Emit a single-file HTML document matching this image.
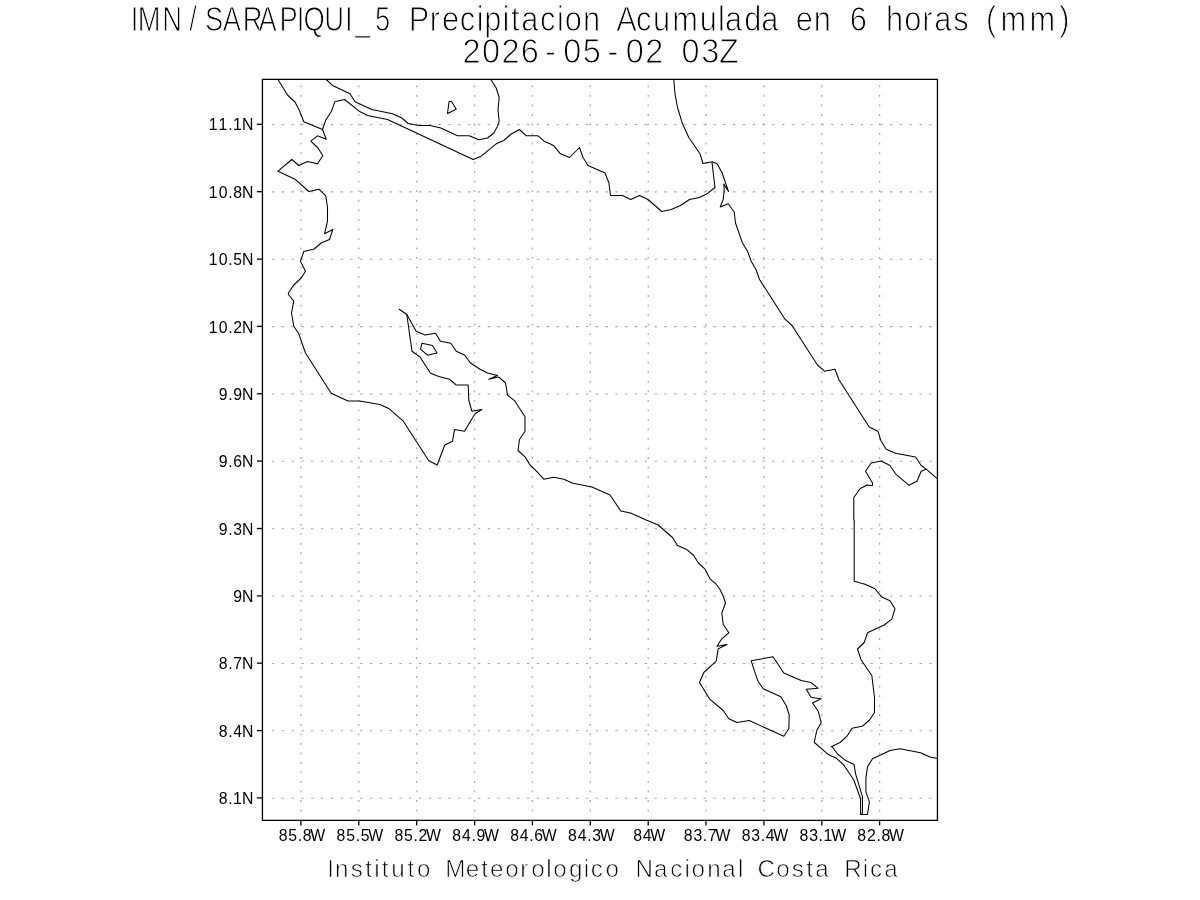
<!DOCTYPE html>
<html lang="es"><head><meta charset="utf-8"><title>IMN/SARAPIQUI_5 Precipitacion Acumulada en 6 horas (mm)</title>
<style>
html,body{margin:0;padding:0;background:#fff;}
body{width:1200px;height:900px;overflow:hidden;}
svg{display:block;}
text{font-family:"Liberation Sans",sans-serif;fill:#000;}
.t{stroke:#fff;stroke-width:1.0px;}
.a{font-size:17.2px;}
.f{stroke:#fff;stroke-width:0.7px;}
.g{stroke:#a8a8a8;stroke-width:1.3;fill:none;}
.c{stroke:#000;stroke-width:1.05;fill:none;stroke-linejoin:round;stroke-linecap:round;}
</style></head><body>
<svg width="1200" height="900" viewBox="0 0 1200 900">
<rect x="0" y="0" width="1200" height="900" fill="#fff"/>
<text class="t" transform="scale(0.8 1)" x="163.37 172.32 202.77 236.62 256.23 278.47 303.42 323.28 349.47 370.87 379.33 405.28 431.19 443.99 468.65" y="30.7" style="font-size:34.2px">IMN/SARAPIQUI_5</text>
<text class="t" transform="scale(0.9 1)" x="454.10 477.52 491.07 510.85 529.70 537.94 558.39 567.93 579.05 600.12 618.97 627.60 647.76 670.94 684.85 706.55 725.55 746.82 777.63 797.65 805.57 826.87 845.95 870.39 884.07 904.15 928.58 944.12 969.55 984.51 1004.81 1024.80 1038.15 1059.14 1080.94 1095.57 1111.59 1143.79 1176.93" y="30.7" style="font-size:34.2px">Precipitacion Acumulada en 6 horas (mm)</text>
<text class="t" transform="scale(0.95 1)" x="486.91 507.44 527.86 548.27 573.67 593.02 613.47 639.46 658.81 679.23 702.62 717.49 738.06 756.81" y="62.6" style="font-size:34.2px">2026-05-02 03Z</text>
<line class="g" x1="300.9" y1="85.50" x2="300.9" y2="820.4" stroke-dasharray="1.8 7.728"/>
<line class="g" x1="358.8" y1="85.50" x2="358.8" y2="820.4" stroke-dasharray="1.8 7.728"/>
<line class="g" x1="416.7" y1="85.50" x2="416.7" y2="820.4" stroke-dasharray="1.8 7.728"/>
<line class="g" x1="474.6" y1="85.50" x2="474.6" y2="820.4" stroke-dasharray="1.8 7.728"/>
<line class="g" x1="532.4" y1="85.50" x2="532.4" y2="820.4" stroke-dasharray="1.8 7.728"/>
<line class="g" x1="590.3" y1="85.50" x2="590.3" y2="820.4" stroke-dasharray="1.8 7.728"/>
<line class="g" x1="648.2" y1="85.50" x2="648.2" y2="820.4" stroke-dasharray="1.8 7.728"/>
<line class="g" x1="706.0" y1="85.50" x2="706.0" y2="820.4" stroke-dasharray="1.8 7.728"/>
<line class="g" x1="763.9" y1="85.50" x2="763.9" y2="820.4" stroke-dasharray="1.8 7.728"/>
<line class="g" x1="821.8" y1="85.50" x2="821.8" y2="820.4" stroke-dasharray="1.8 7.728"/>
<line class="g" x1="879.6" y1="85.50" x2="879.6" y2="820.4" stroke-dasharray="1.8 7.728"/>
<line class="g" x1="271.80" y1="124.53" x2="937.5" y2="124.53" stroke-dasharray="2.4 7.413" style="stroke-width:1.05;stroke:#a6a6a6"/>
<line class="g" x1="271.80" y1="191.89" x2="937.5" y2="191.89" stroke-dasharray="2.4 7.413" style="stroke-width:1.05;stroke:#a6a6a6"/>
<line class="g" x1="271.80" y1="259.25" x2="937.5" y2="259.25" stroke-dasharray="2.4 7.413" style="stroke-width:1.05;stroke:#a6a6a6"/>
<line class="g" x1="271.80" y1="326.62" x2="937.5" y2="326.62" stroke-dasharray="2.4 7.413" style="stroke-width:1.05;stroke:#a6a6a6"/>
<line class="g" x1="271.80" y1="393.98" x2="937.5" y2="393.98" stroke-dasharray="2.4 7.413" style="stroke-width:1.05;stroke:#a6a6a6"/>
<line class="g" x1="271.80" y1="461.34" x2="937.5" y2="461.34" stroke-dasharray="2.4 7.413" style="stroke-width:1.05;stroke:#a6a6a6"/>
<line class="g" x1="271.80" y1="528.70" x2="937.5" y2="528.70" stroke-dasharray="2.4 7.413" style="stroke-width:1.05;stroke:#a6a6a6"/>
<line class="g" x1="271.80" y1="596.06" x2="937.5" y2="596.06" stroke-dasharray="2.4 7.413" style="stroke-width:1.05;stroke:#a6a6a6"/>
<line class="g" x1="271.80" y1="663.43" x2="937.5" y2="663.43" stroke-dasharray="2.4 7.413" style="stroke-width:1.05;stroke:#a6a6a6"/>
<line class="g" x1="271.80" y1="730.79" x2="937.5" y2="730.79" stroke-dasharray="2.4 7.413" style="stroke-width:1.05;stroke:#a6a6a6"/>
<line class="g" x1="271.80" y1="798.15" x2="937.5" y2="798.15" stroke-dasharray="2.4 7.413" style="stroke-width:1.05;stroke:#a6a6a6"/>
<g class="c">
<path d="M278.0 79.5 L287.5 95.0 L295.0 102.0 L299.2 110.0 L303.8 121.8 L322.5 129.5 L326.2 139.2 L317.5 135.8 L310.8 141.2 L318.0 148.0 L322.8 155.8 L317.5 163.8 L307.5 161.5 L298.8 165.5 L291.8 159.5 L278.0 171.2 L295.0 179.2 L308.8 191.5 L318.8 189.2 L325.8 195.8 L327.5 207.5 L327.5 221.2 L324.5 233.8 L332.8 229.5 L329.5 239.5 L321.2 243.0 L314.2 249.0 L303.8 251.5 L300.5 261.2 L305.5 271.2 L301.2 278.0 L293.8 285.0 L288.2 293.2 L288.8 295.0 L293.8 301.2 L291.5 313.0 L293.8 326.2 L298.8 333.8 L305.5 353.0 L331.2 393.2 L348.0 401.0 L359.5 401.0 L380.0 404.5 L389.2 408.8 L403.0 420.8 L428.8 460.8 L437.2 465.0 L444.8 445.0 L452.5 441.2 L454.5 429.5 L464.5 431.2 L475.0 413.8 L481.8 409.5 L471.8 411.2 L468.8 400.0 L468.2 385.0 L456.2 385.0 L449.5 379.2 L438.8 376.5 L430.5 373.2 L420.0 357.0 L412.0 351.2 L406.8 314.5 L399.2 309.2"/>
<path d="M406.8 314.5 L416.2 331.2 L425.0 335.0 L435.5 333.2 L440.5 341.2 L450.8 343.2 L456.2 351.2 L464.5 355.0 L470.5 363.0 L480.0 369.2 L487.5 373.0 L497.5 375.5 L488.8 379.2 L498.8 377.0 L505.5 383.0 L507.5 395.0 L515.0 401.2 L525.0 416.8 L525.0 431.2 L519.5 439.5 L518.0 450.5 L525.0 456.8 L530.0 465.0 L536.2 470.8 L543.8 479.2 L550.0 478.0 L553.8 477.2 L563.8 479.2 L573.0 483.2 L592.0 487.0 L610.0 495.0 L620.8 511.0 L630.5 513.0 L646.2 520.0 L658.2 525.0 L672.5 537.5 L677.5 545.5 L686.2 549.2 L693.8 555.5 L698.0 562.5 L705.0 569.2 L710.0 578.8 L716.2 584.2 L720.0 589.5 L723.2 596.2 L725.5 603.0 L721.8 613.0 L723.2 624.2 L728.8 632.8 L721.8 638.8 L717.0 646.2 L727.0 644.5 L718.2 648.8 L716.2 661.2 L703.8 672.5 L699.5 682.5 L709.5 698.8 L723.2 710.5 L728.8 718.8 L737.0 722.5 L749.2 720.5 L783.8 736.2 L788.8 728.8 L789.2 715.0 L786.2 705.5 L780.8 696.8 L763.2 688.8 L758.0 681.2 L754.5 671.2 L751.2 660.8 L773.0 656.8 L783.8 673.0 L801.2 680.5 L810.8 682.5 L818.0 688.2 L806.2 689.2 L811.2 697.5 L821.2 698.8 L812.5 703.0 L818.2 711.2 L821.2 722.5 L816.8 730.5 L814.2 742.5 L814.4 742.5 L828.1 754.4 L836.2 758.1 L843.8 765.0 L853.8 780.0 L860.6 798.8 L860.6 814.4 L867.5 814.4 L869.4 801.9 L865.9 791.9 L865.9 778.1 L867.5 766.9 L872.5 758.8 L890.0 750.6 L900.0 748.8 L920.6 752.8 L930.0 756.9 L937.5 758.5"/>
<path d="M422.0 343.2 L432.5 345.5 L437.0 353.0 L427.5 355.2 L420.5 349.2Z"/>
<path d="M449.1 101.4 L451.6 101.4 L456.2 109.2 L447.5 113.5Z"/>
<path d="M322.5 129.5 L325.8 120.0 L331.5 111.2 L334.8 101.8 L344.5 99.5 L359.2 111.2 L367.5 115.5 L387.5 119.5 L473.2 159.5 L481.2 156.2 L496.2 143.8 L503.8 140.5 L511.2 134.0 L519.5 129.5 L526.2 135.8 L538.0 135.8 L545.0 141.8 L550.0 143.8 L553.8 145.8 L560.5 153.8 L569.5 157.5 L579.5 147.5 L583.0 157.5 L588.0 165.5 L605.0 173.0 L608.8 182.5 L610.5 195.5 L622.5 195.5 L630.8 199.5 L639.5 195.5 L648.0 199.5 L661.8 211.5 L671.2 209.5 L680.5 205.5 L689.5 199.5 L699.5 197.5 L707.0 193.8 L715.0 187.5 L712.0 162.5"/>
<path d="M326.2 79.5 L333.0 85.8 L350.0 93.8 L355.0 101.8 L371.8 109.5 L392.5 113.8 L401.8 118.0 L408.2 123.5 L418.8 125.5 L430.0 125.5 L440.8 128.0 L457.5 135.8 L469.2 135.8 L478.8 139.8 L487.5 138.0 L493.8 133.0 L497.5 126.2 L499.2 121.2 L498.0 110.0 L499.2 97.5 L496.2 88.0 L490.8 79.5"/>
<path d="M673.8 79.5 L675.0 93.8 L677.5 107.5 L682.5 123.8 L688.8 137.5 L700.0 153.8 L703.0 163.5 L712.5 161.8 L717.0 163.8 L722.0 172.5 L728.5 191.5 L723.8 184.0 L724.2 190.5 L723.2 199.5 L720.2 207.0 L728.2 203.8 L734.2 212.0 L735.5 223.0 L742.5 243.0 L747.5 251.2 L751.2 261.2 L756.2 270.0 L759.5 279.5 L769.5 295.0 L769.5 295.0 L785.0 319.2 L792.0 325.5 L817.5 365.0 L824.5 371.2 L835.0 369.2 L838.8 379.5 L869.2 427.0 L878.0 431.2 L880.8 440.5 L886.2 449.2 L895.5 453.2 L915.5 457.0 L921.2 465.5 L926.2 469.2 L937.5 478.8"/>
<path d="M926.2 469.2 L921.2 471.2 L917.0 481.2 L908.8 485.2 L895.5 473.8 L890.0 465.5 L881.2 461.0 L871.2 463.0 L865.5 471.2 L872.5 483.0 L872.5 485.5 L867.0 485.0 L860.0 488.8 L853.8 497.5 L853.8 520.0 L854.2 520.0 L854.2 581.2 L865.0 584.2 L875.0 588.8 L881.8 597.0 L890.0 600.8 L895.0 608.8 L891.8 619.2 L884.2 625.0 L867.5 632.8 L864.2 642.5 L857.5 649.0 L861.2 660.0 L871.8 675.5 L874.5 697.5 L874.5 712.5 L869.5 720.0 L863.8 725.0 L862.0 726.2 L852.0 728.2 L847.0 736.2 L840.0 742.5 L831.2 746.8 L831.9 746.5 L837.5 753.8 L845.6 760.6 L854.0 764.4 L855.6 773.8 L862.5 796.9 L862.5 813.1 L861.2 814.4"/>
</g>
<rect x="262.45" y="79.35" width="675.0" height="741.0" fill="none" stroke="#000" stroke-width="1.3" stroke-linejoin="round"/>
<g stroke="#000" stroke-width="1.3">
<line x1="300.9" y1="820.4" x2="300.9" y2="825.4"/>
<line x1="358.8" y1="820.4" x2="358.8" y2="825.4"/>
<line x1="416.7" y1="820.4" x2="416.7" y2="825.4"/>
<line x1="474.6" y1="820.4" x2="474.6" y2="825.4"/>
<line x1="532.4" y1="820.4" x2="532.4" y2="825.4"/>
<line x1="590.3" y1="820.4" x2="590.3" y2="825.4"/>
<line x1="648.2" y1="820.4" x2="648.2" y2="825.4"/>
<line x1="706.0" y1="820.4" x2="706.0" y2="825.4"/>
<line x1="763.9" y1="820.4" x2="763.9" y2="825.4"/>
<line x1="821.8" y1="820.4" x2="821.8" y2="825.4"/>
<line x1="879.6" y1="820.4" x2="879.6" y2="825.4"/>
<line x1="256.9" y1="124.3" x2="262.4" y2="124.3"/>
<line x1="256.9" y1="191.7" x2="262.4" y2="191.7"/>
<line x1="256.9" y1="259.1" x2="262.4" y2="259.1"/>
<line x1="256.9" y1="326.4" x2="262.4" y2="326.4"/>
<line x1="256.9" y1="393.8" x2="262.4" y2="393.8"/>
<line x1="256.9" y1="461.1" x2="262.4" y2="461.1"/>
<line x1="256.9" y1="528.5" x2="262.4" y2="528.5"/>
<line x1="256.9" y1="595.9" x2="262.4" y2="595.9"/>
<line x1="256.9" y1="663.2" x2="262.4" y2="663.2"/>
<line x1="256.9" y1="730.6" x2="262.4" y2="730.6"/>
<line x1="256.9" y1="797.9" x2="262.4" y2="797.9"/>
</g>
<text class="a" transform="scale(0.92 1)" x="302.91 313.43 323.68 329.16 337.37" y="840.6" style="font-size:17.2px">85.8W</text>
<text class="a" transform="scale(0.92 1)" x="365.81 376.33 386.58 392.08 400.27" y="840.6" style="font-size:17.2px">85.5W</text>
<text class="a" transform="scale(0.92 1)" x="428.72 439.23 449.48 454.97 463.17" y="840.6" style="font-size:17.2px">85.2W</text>
<text class="a" transform="scale(0.92 1)" x="491.62 502.17 512.39 517.87 526.08" y="840.6" style="font-size:17.2px">84.9W</text>
<text class="a" transform="scale(0.92 1)" x="554.52 565.07 575.29 580.71 588.98" y="840.6" style="font-size:17.2px">84.6W</text>
<text class="a" transform="scale(0.92 1)" x="617.42 627.98 638.19 643.72 651.88" y="840.6" style="font-size:17.2px">84.3W</text>
<text class="a" transform="scale(0.92 1)" x="688.20 698.75 706.91" y="840.6" style="font-size:17.2px">84W</text>
<text class="a" transform="scale(0.92 1)" x="743.23 753.78 764.00 769.47 777.68" y="840.6" style="font-size:17.2px">83.7W</text>
<text class="a" transform="scale(0.92 1)" x="806.13 816.68 826.90 832.43 840.59" y="840.6" style="font-size:17.2px">83.4W</text>
<text class="a" transform="scale(0.92 1)" x="869.03 879.58 889.80 895.05 903.49" y="840.6" style="font-size:17.2px">83.1W</text>
<text class="a" transform="scale(0.92 1)" x="931.93 942.43 952.70 958.18 966.39" y="840.6" style="font-size:17.2px">82.8W</text>
<text class="a" transform="scale(0.92 1)" x="227.04 237.54 248.04 253.29 263.12" y="130.48" style="font-size:17.2px">11.1N</text>
<text class="a" transform="scale(0.92 1)" x="227.04 237.78 248.04 253.53 263.12" y="197.84" style="font-size:17.2px">10.8N</text>
<text class="a" transform="scale(0.92 1)" x="227.04 237.78 248.04 253.54 263.12" y="265.2" style="font-size:17.2px">10.5N</text>
<text class="a" transform="scale(0.92 1)" x="227.04 237.78 248.04 253.53 263.12" y="332.57" style="font-size:17.2px">10.2N</text>
<text class="a" transform="scale(0.92 1)" x="237.78 248.04 253.53 263.12" y="399.93" style="font-size:17.2px">9.9N</text>
<text class="a" transform="scale(0.92 1)" x="237.78 248.04 253.47 263.12" y="467.29" style="font-size:17.2px">9.6N</text>
<text class="a" transform="scale(0.92 1)" x="237.78 248.04 253.58 263.12" y="534.65" style="font-size:17.2px">9.3N</text>
<text class="a" transform="scale(0.92 1)" x="253.53 263.12" y="602.01" style="font-size:17.2px">9N</text>
<text class="a" transform="scale(0.92 1)" x="237.78 248.04 253.52 263.12" y="669.38" style="font-size:17.2px">8.7N</text>
<text class="a" transform="scale(0.92 1)" x="237.78 248.04 253.58 263.12" y="736.74" style="font-size:17.2px">8.4N</text>
<text class="a" transform="scale(0.92 1)" x="237.78 248.04 253.29 263.12" y="804.1" style="font-size:17.2px">8.1N</text>
<text class="f" x="327.24 335.02 350.71 365.20 374.25 381.75 391.32 407.40 416.95 435.26 445.15 465.65 481.13 490.11 505.17 520.31 531.25 546.30 553.27 569.03 583.81 590.85 605.45 624.26 635.57 653.95 670.18 684.45 691.52 707.14 722.29 737.96 747.26 757.51 776.15 791.76 806.20 815.18 834.14 844.23 862.71 869.89 884.18" y="877.1" style="font-size:24.2px">Instituto Meteorologico Nacional Costa Rica</text>
</svg>
</body></html>
